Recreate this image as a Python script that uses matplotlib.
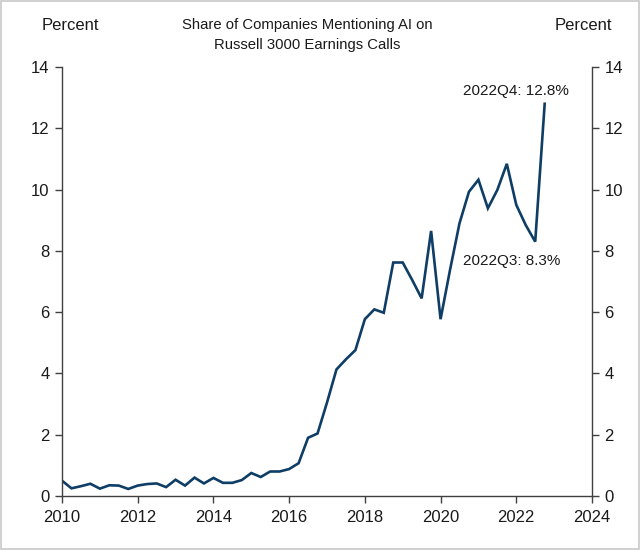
import numpy as np
import matplotlib.pyplot as plt
from matplotlib.patches import Rectangle

plt.rcParams['font.family'] = ['Liberation Sans', 'DejaVu Sans']

# quarterly share of Russell 3000 companies mentioning AI, 2010Q1 .. 2022Q4
years = np.arange(2010, 2023)
share = [
    0.50, 0.25, 0.32, 0.40,   # 2010
    0.24, 0.35, 0.34, 0.23,   # 2011
    0.34, 0.39, 0.41, 0.29,   # 2012
    0.53, 0.34, 0.60, 0.41,   # 2013
    0.59, 0.43, 0.43, 0.52,   # 2014
    0.75, 0.62, 0.80, 0.80,   # 2015
    0.88, 1.07, 1.90, 2.04,   # 2016
    3.05, 4.13, 4.46, 4.76,   # 2017
    5.77, 6.09, 5.98, 7.62,   # 2018
    7.62, 7.05, 6.45, 8.65,   # 2019
    5.77, 7.38, 8.90, 9.93,   # 2020
    10.32, 9.39, 9.99, 10.84,  # 2021
    9.50, 8.84, 8.30, 12.80,  # 2022
]
quarters = np.repeat(years, 4) + np.tile([0, 0.25, 0.5, 0.75], len(years))

x_ticks = list(range(2010, 2025, 2))
y_ticks = list(range(0, 15, 2))
title_lines = ['Share of Companies Mentioning AI on', 'Russell 3000 Earnings Calls']

fig = plt.figure(figsize=(6.4, 5.5), dpi=100)
ax = fig.add_axes([62 / 640, 1 - 496 / 550, 530 / 640, 429 / 550])

ax.plot(quarters, share, color='#0e3d66', lw=1.9, solid_joinstyle='miter')

ax.set_xlim(2010, 2024)
ax.set_ylim(0, 14)
ax.set_xticks(x_ticks)
ax.set_yticks(y_ticks)

axis_color = '#404040'
for side in ['left', 'right', 'bottom']:
    ax.spines[side].set_color(axis_color)
    ax.spines[side].set_linewidth(1)
ax.spines['top'].set_visible(False)
ax.tick_params(axis='both', direction='out', length=5, width=1,
               color=axis_color, labelsize=12, labelcolor='#1a1a1a')
ax.tick_params(axis='y', left=True, right=True, labelleft=True, labelright=True, pad=4)
ax.tick_params(axis='x', pad=5)

# annotations for last two quarters
ax.text(2020.59, 13.22, '2022Q4: 12.8%', fontsize=11, color='#1a1a1a',
        ha='left', va='center')
ax.text(2020.59, 7.67, '2022Q3: 8.3%', fontsize=11, color='#1a1a1a',
        ha='left', va='center')

# header texts
fig.text(307 / 640, 1 - 25 / 550, title_lines[0], ha='center', va='center',
         fontsize=10.7, color='#1a1a1a')
fig.text(307 / 640, 1 - 45 / 550, title_lines[1], ha='center', va='center',
         fontsize=10.7, color='#1a1a1a')
fig.text(42 / 640, 1 - 25 / 550, 'Percent', ha='left', va='center', fontsize=12, color='#1a1a1a')
fig.text(612 / 640, 1 - 25 / 550, 'Percent', ha='right', va='center', fontsize=12, color='#1a1a1a')

# thin gray frame around the figure
fig.patches.append(Rectangle((0.001, 0.002), 0.997, 0.996, transform=fig.transFigure,
                             fill=False, edgecolor='#c8c8c8', lw=1.2))

fig.savefig('out.png', dpi=100)
